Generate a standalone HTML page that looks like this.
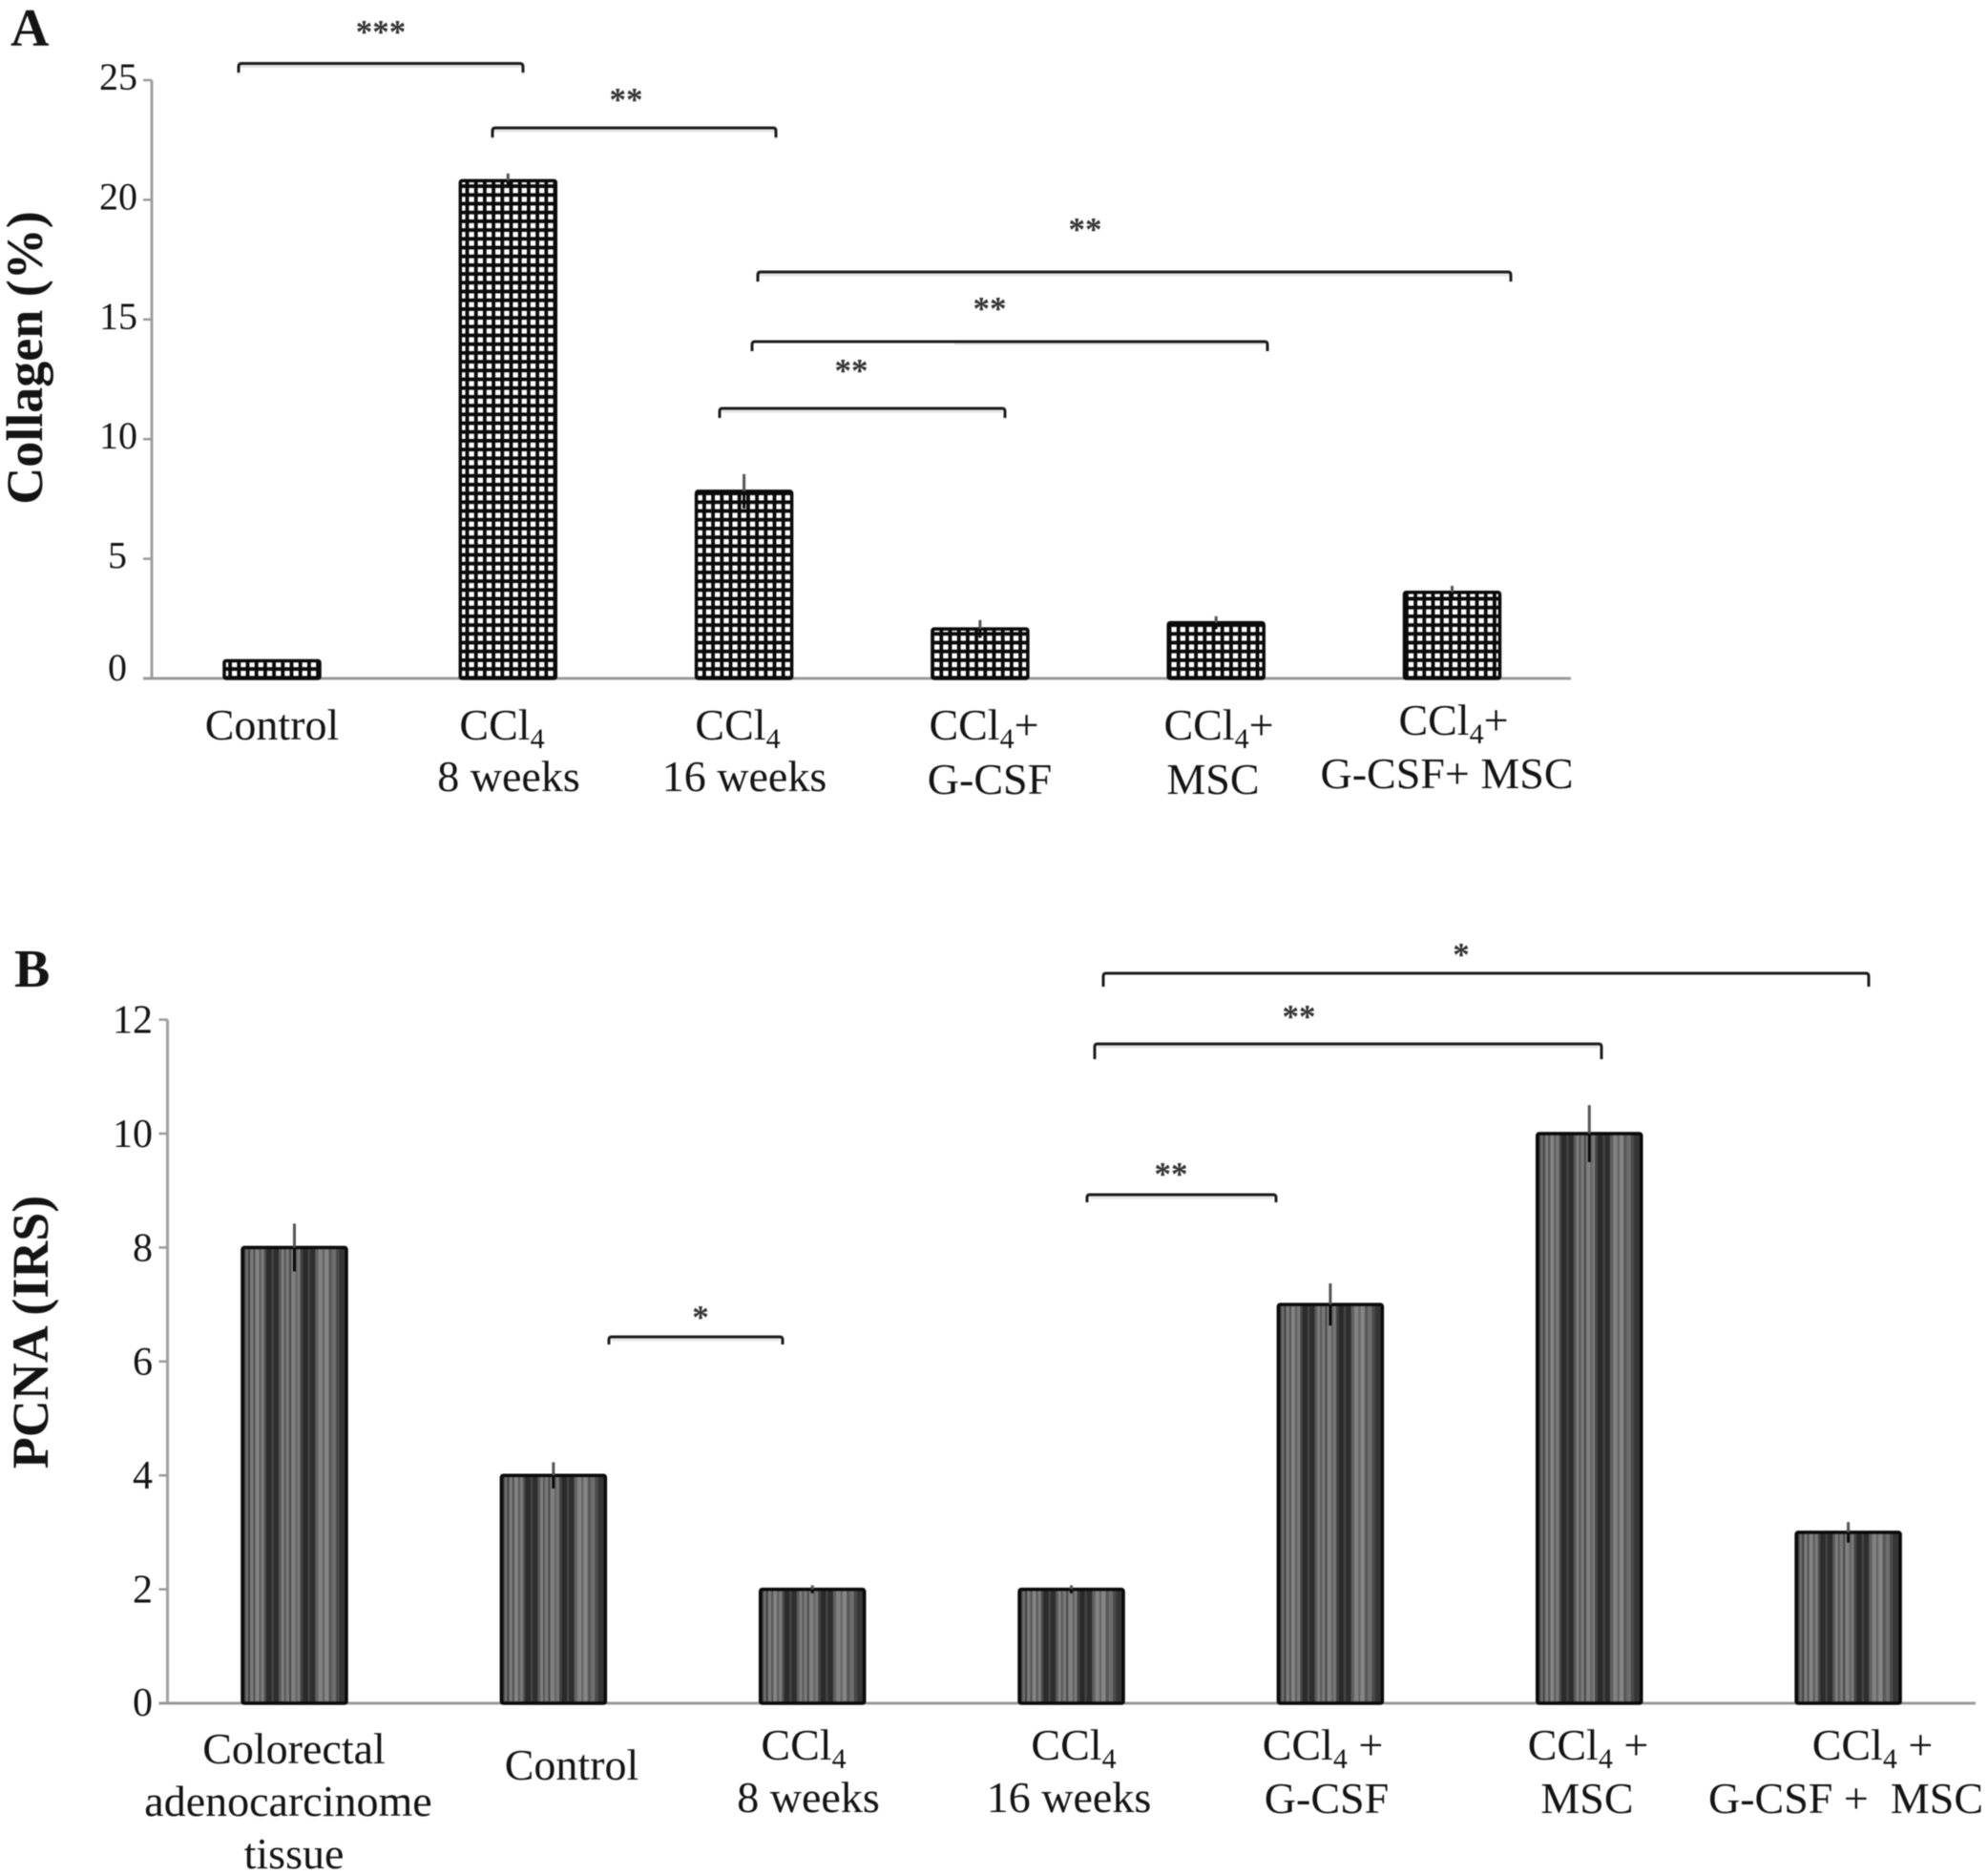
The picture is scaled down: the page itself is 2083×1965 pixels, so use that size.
<!DOCTYPE html>
<html lang="en">
<head>
<meta charset="utf-8">
<title>Collagen and PCNA bar charts</title>
<style>
html,body{margin:0;padding:0;background:#fff;}
svg{display:block;filter:blur(0.6px);}
text{font-family:"Liberation Serif",serif;fill:#141414;}
.cat{font-size:46px;text-anchor:middle;}
.star{font-size:35px;font-weight:bold;text-anchor:middle;fill:#333;}
.title{font-size:54px;font-weight:bold;text-anchor:middle;}
.panel{font-size:56px;font-weight:bold;}
.br{fill:none;stroke:#1c1c1c;stroke-width:3;}
.brs{fill:none;stroke:#e4e4e4;stroke-width:3;}
</style>
</head>
<body>
<svg id="figure" xmlns="http://www.w3.org/2000/svg" width="2083" height="1965" viewBox="0 0 2083 1965">
<defs>
<pattern id="gridFill" patternUnits="userSpaceOnUse" width="9.2" height="9.2">
<rect width="9.2" height="9.2" fill="#fff"/>
<rect x="0" y="0" width="3.8" height="9.2" fill="#0a0a0a"/>
<rect x="0" y="0" width="9.2" height="3.8" fill="#0a0a0a"/>
</pattern>
<pattern id="stripeFill" patternUnits="objectBoundingBox" patternContentUnits="objectBoundingBox" width="1" height="1">
<rect x="0" y="0" width="1" height="1" fill="#555"/>
<rect x="0" y="0" width="0.03" height="1" fill="#3a3a3a"/>
<rect x="0.03" y="0" width="0.025" height="1" fill="#6e6e6e"/>
<rect x="0.055" y="0" width="0.02" height="1" fill="#444"/>
<rect x="0.075" y="0" width="0.03" height="1" fill="#7c7c7c"/>
<rect x="0.105" y="0" width="0.02" height="1" fill="#555"/>
<rect x="0.125" y="0" width="0.035" height="1" fill="#858585"/>
<rect x="0.16" y="0" width="0.02" height="1" fill="#5e5e5e"/>
<rect x="0.18" y="0" width="0.03" height="1" fill="#7a7a7a"/>
<rect x="0.21" y="0" width="0.02" height="1" fill="#4a4a4a"/>
<rect x="0.23" y="0" width="0.05" height="1" fill="#2c2c2c"/>
<rect x="0.28" y="0" width="0.02" height="1" fill="#454545"/>
<rect x="0.30" y="0" width="0.05" height="1" fill="#2e2e2e"/>
<rect x="0.35" y="0" width="0.025" height="1" fill="#5a5a5a"/>
<rect x="0.375" y="0" width="0.025" height="1" fill="#808080"/>
<rect x="0.40" y="0" width="0.02" height="1" fill="#5c5c5c"/>
<rect x="0.42" y="0" width="0.03" height="1" fill="#7a7a7a"/>
<rect x="0.45" y="0" width="0.02" height="1" fill="#4c4c4c"/>
<rect x="0.47" y="0" width="0.04" height="1" fill="#808080"/>
<rect x="0.51" y="0" width="0.02" height="1" fill="#666"/>
<rect x="0.53" y="0" width="0.025" height="1" fill="#7a7a7a"/>
<rect x="0.555" y="0" width="0.025" height="1" fill="#444"/>
<rect x="0.58" y="0" width="0.05" height="1" fill="#2a2a2a"/>
<rect x="0.63" y="0" width="0.02" height="1" fill="#444"/>
<rect x="0.65" y="0" width="0.05" height="1" fill="#2e2e2e"/>
<rect x="0.70" y="0" width="0.03" height="1" fill="#616161"/>
<rect x="0.73" y="0" width="0.04" height="1" fill="#828282"/>
<rect x="0.77" y="0" width="0.02" height="1" fill="#656565"/>
<rect x="0.79" y="0" width="0.04" height="1" fill="#868686"/>
<rect x="0.83" y="0" width="0.03" height="1" fill="#585858"/>
<rect x="0.86" y="0" width="0.04" height="1" fill="#6e6e6e"/>
<rect x="0.90" y="0" width="0.03" height="1" fill="#4a4a4a"/>
<rect x="0.93" y="0" width="0.07" height="1" fill="#363636"/>
</pattern>
</defs>

<text class="panel" x="11" y="48">A</text>
<text class="panel" x="15" y="1034">B</text>

<text class="title" transform="translate(44,375) rotate(-90)">Collagen (%)</text>
<text class="title" transform="translate(50,1396) rotate(-90)">PCNA (IRS)</text>

<g id="panelA"></g>
<g id="panelB"></g>

<g>
<text class="cat" x="285" y="775">Control</text>
<text class="cat" x="526" y="775">CCl<tspan dy="9" font-size="30">4</tspan></text>
<text class="cat" x="533" y="829">8 weeks</text>
<text class="cat" x="773" y="775">CCl<tspan dy="9" font-size="30">4</tspan></text>
<text class="cat" x="780" y="829">16 weeks</text>
<text class="cat" x="1031" y="775">CCl<tspan dy="9" font-size="30">4</tspan><tspan dy="-9">+</tspan></text>
<text class="cat" x="1037" y="832">G-CSF</text>
<text class="cat" x="1277" y="775">CCl<tspan dy="9" font-size="30">4</tspan><tspan dy="-9">+</tspan></text>
<text class="cat" x="1271" y="832">MSC</text>
<text class="cat" x="1523" y="770">CCl<tspan dy="9" font-size="30">4</tspan><tspan dy="-9">+</tspan></text>
<text class="cat" x="1516" y="826">G-CSF+ MSC</text>
</g>

<g>
<text class="cat" x="308" y="1848">Colorectal</text>
<text class="cat" x="302" y="1903">adenocarcinome</text>
<text class="cat" x="308" y="1958">tissue</text>
<text class="cat" x="599" y="1865">Control</text>
<text class="cat" x="842" y="1844">CCl<tspan dy="9" font-size="30">4</tspan></text>
<text class="cat" x="847" y="1899">8 weeks</text>
<text class="cat" x="1125" y="1844">CCl<tspan dy="9" font-size="30">4</tspan></text>
<text class="cat" x="1120" y="1899">16 weeks</text>
<text class="cat" x="1386" y="1844">CCl<tspan dy="9" font-size="30">4</tspan><tspan dy="-9"> +</tspan></text>
<text class="cat" x="1390" y="1900">G-CSF</text>
<text class="cat" x="1664" y="1844">CCl<tspan dy="9" font-size="30">4</tspan><tspan dy="-9"> +</tspan></text>
<text class="cat" x="1663" y="1900">MSC</text>
<text class="cat" x="1962" y="1844">CCl<tspan dy="9" font-size="30">4</tspan><tspan dy="-9"> +</tspan></text>
<text class="cat" x="1934" y="1900" xml:space="preserve">G-CSF +  MSC</text>
</g>

<g>
<path class="brs" d="M250 78V72Q250 69.5 253 69.5H545Q548 69.5 548 72V78"/>
<path class="br" d="M250 76V70Q250 66.5 253 66.5H545Q548 66.5 548 70V76"/>
<text class="star" x="399" y="45">***</text>
<path class="brs" d="M516 146V140Q516 137 519 137H810Q813 137 813 140V146"/>
<path class="br" d="M516 144V137Q516 134 519 134H810Q813 134 813 137V144"/>
<text class="star" x="656" y="116">**</text>
<path class="brs" d="M794 296V291Q794 288 797 288H1580Q1583 288 1583 291V296"/>
<path class="br" d="M794 295V288Q794 285 797 285H1580Q1583 285 1583 288V295"/>
<text class="star" x="1137" y="252">**</text>
<path class="brs" d="M1000 360H1325"/>
<path class="br" d="M788 368V361Q788 358 791 358H1325Q1328 358 1328 361V368"/>
<text class="star" x="1037" y="335">**</text>
<path class="brs" d="M757 431H1050"/>
<path class="br" d="M754 438V431Q754 428 757 428H1050Q1053 428 1053 431V438"/>
<text class="star" x="892" y="400">**</text>
</g>

<g>
<path class="br" d="M1156 1034V1023Q1156 1020 1159 1020H1955Q1958 1020 1958 1023V1034"/>
<text class="star" x="1531" y="1012">*</text>
<path class="brs" d="M1150 1097H1675"/>
<path class="br" d="M1147 1110V1097Q1147 1094 1150 1094H1675Q1678 1094 1678 1097V1110"/>
<text class="star" x="1361" y="1077">**</text>
<path class="brs" d="M1142 1255H1334"/>
<path class="br" d="M1139 1260V1255Q1139 1252 1142 1252H1334Q1337 1252 1337 1255V1260"/>
<text class="star" x="1227" y="1242">**</text>
<path class="brs" d="M641 1404H817"/>
<path class="br" d="M638 1409V1404Q638 1401 641 1401H817Q820 1401 820 1404V1409"/>
<text class="star" x="734" y="1392">*</text>
</g>
</svg>

<script>
const panelACategories = ["Control", "CCl4 8 weeks", "CCl4 16 weeks", "CCl4+G-CSF", "CCl4+MSC", "CCl4+G-CSF+MSC"];
const panelAValues = [0.74, 20.8, 7.82, 2.07, 2.33, 3.6];
const panelAErrors = [0, 0.3, 0.72, 0.37, 0.27, 0.27];
const panelATicks = [0, 5, 10, 15, 20, 25];

const panelBCategories = ["Colorectal adenocarcinome tissue", "Control", "CCl4 8 weeks", "CCl4 16 weeks", "CCl4+G-CSF", "CCl4+MSC", "CCl4+G-CSF+MSC"];
const panelBValues = [8, 4, 2, 2, 7, 10, 3];
const panelBErrors = [0.42, 0.23, 0.07, 0.07, 0.37, 0.5, 0.18];
const panelBTicks = [0, 2, 4, 6, 8, 10, 12];

const NS = "http://www.w3.org/2000/svg";

function add(parent, tag, attrs) {
  const el = document.createElementNS(NS, tag);
  for (const k in attrs) el.setAttribute(k, attrs[k]);
  parent.appendChild(el);
  return el;
}

function drawPanel(cfg) {
  const g = document.getElementById(cfg.id);
  const y = function (v) { return cfg.y0 - v * cfg.unit; };
  const x = function (i) { return cfg.x0 + i * cfg.step; };

  const yAxis = add(g, "line", {x1: cfg.axisX, x2: cfg.axisX, y1: y(cfg.ticks[cfg.ticks.length - 1]), y2: cfg.y0, stroke: "#a0a0a0", "stroke-width": 3});
  
  

  const xAxis = add(g, "line", {x1: cfg.axisX - 9, x2: cfg.axisEnd, y1: cfg.y0, y2: cfg.y0, stroke: "#9a9a9a", "stroke-width": 3});
  
  

  cfg.ticks.forEach(function (t) {
    const tick = add(g, "line", {x1: cfg.axisX - 9, x2: cfg.axisX, y1: y(t), y2: y(t), stroke: "#9a9a9a", "stroke-width": 2.5});
    
    

    const label = add(g, "text", {x: cfg.labelX + (t < 10 ? cfg.singleShift : 0), y: y(t) + cfg.labelDy + (t === 0 ? cfg.zeroShift : 0), "text-anchor": "end", "font-size": cfg.tickFont});
    label.textContent = String(t);
    
    
  });

  cfg.values.forEach(function (v, i) {
    const bar = add(g, "rect", {x: x(i) - cfg.width / 2, y: y(v), width: cfg.width, height: cfg.y0 - y(v), rx: 2, fill: cfg.fill, stroke: "#0a0a0a", "stroke-width": cfg.stroke});
    
    

    if (cfg.errors[i] > 0) {
      const upper = add(g, "line", {x1: x(i), x2: x(i), y1: y(v + cfg.errors[i]), y2: y(v), stroke: "#555", "stroke-width": 3});
      
      

      const lower = add(g, "line", {x1: x(i), x2: x(i), y1: y(v), y2: y(v - cfg.errors[i]), stroke: "#0a0a0a", "stroke-width": 3});
      
      
    }
  });
}

drawPanel({id: "panelA", categories: panelACategories, values: panelAValues, errors: panelAErrors, ticks: panelATicks,
  y0: 711, unit: 25.08, x0: 285, step: 247.3, width: 100, axisX: 159, axisEnd: 1646, labelX: 144, singleShift: -11, labelDy: 10, tickFont: 40, zeroShift: -8, fill: "url(#gridFill)", stroke: 3.5});

drawPanel({id: "panelB", categories: panelBCategories, values: panelBValues, errors: panelBErrors, ticks: panelBTicks,
  y0: 1785, unit: 59.7, x0: 308.5, step: 271.35, width: 109, axisX: 175.5, axisEnd: 2070, labelX: 160, singleShift: 0, labelDy: 14, tickFont: 42, zeroShift: -1, fill: "url(#stripeFill)", stroke: 3.5});
</script>
</body>
</html>
